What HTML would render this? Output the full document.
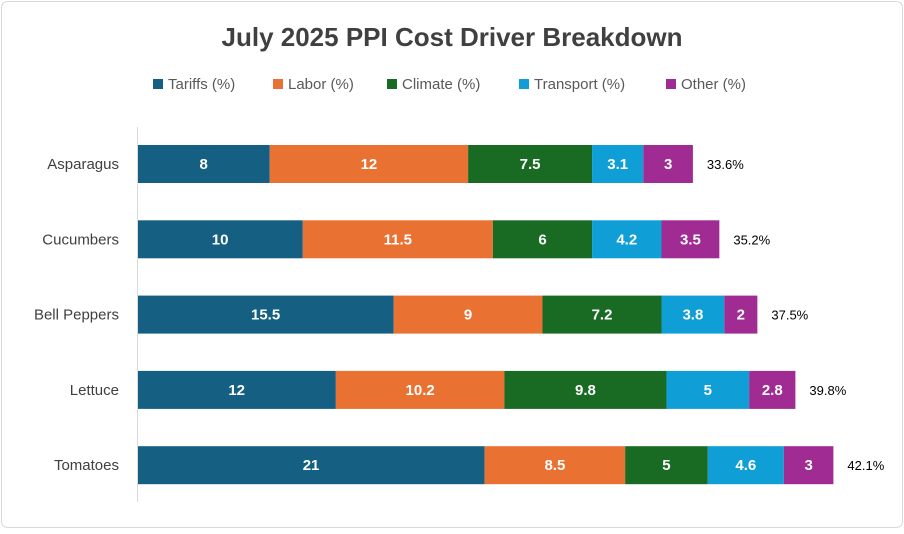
<!DOCTYPE html>
<html><head><meta charset="utf-8"><style>
body{margin:0;background:#fff;font-family:"Liberation Sans",Arial,sans-serif}
</style></head><body>
<svg width="904" height="529" xmlns="http://www.w3.org/2000/svg">
<rect x="1.5" y="1.5" width="901" height="526" rx="6" fill="#fff" stroke="#d9d9d9"/>
<text x="452" y="46" text-anchor="middle" font-size="26" font-weight="bold" fill="#404040">July 2025 PPI Cost Driver Breakdown</text>
<g id="legend"></g>
<g id="plot"></g>
<line x1="137.5" y1="127" x2="137.5" y2="502" stroke="#d9d9d9"/>
</svg>
<script>
const categories=["Asparagus","Cucumbers","Bell Peppers","Lettuce","Tomatoes"];
const seriesNames=["Tariffs (%)","Labor (%)","Climate (%)","Transport (%)","Other (%)"];
const tariffs=[8,10,15.5,12,21];
const labor=[12,11.5,9,10.2,8.5];
const climate=[7.5,6,7.2,9.8,5];
const transport=[3.1,4.2,3.8,5,4.6];
const other=[3,3.5,2,2.8,3];
const totals=["33.6%","35.2%","37.5%","39.8%","42.1%"];
const colors=["#156082","#e97132","#196b24","#0f9ed5","#a02b93"];
const series=[tariffs,labor,climate,transport,other];
const NS="http://www.w3.org/2000/svg";
const x0=137.5,scale=16.53;
const xs=v=>x0+v*scale;
const yc=i=>164+i*75.3;
const barH=38;
const plot=document.getElementById('plot');
function mk(t,a,p){const e=document.createElementNS(NS,t);for(const k in a)e.setAttribute(k,a[k]);p.appendChild(e);return e;}
categories.forEach((c,i)=>{
  const lab=mk('text',{x:119,y:yc(i)+5,'text-anchor':'end','font-size':15,fill:'#404040'},plot);
  lab.textContent=c;
  
  
  let cum=0;
  series.forEach((s,j)=>{
    const v=s[i];
    const r=mk('rect',{x:xs(cum),y:yc(i)-barH/2,width:v*scale,height:barH,fill:colors[j]},plot);
    
    
    const t=mk('text',{x:xs(cum+v/2),y:yc(i)+5,'text-anchor':'middle','font-size':15,'font-weight':'bold',fill:'#fff'},plot);
    t.textContent=v;
    
    
    cum+=v;
  });
  const tt=mk('text',{x:xs(cum)+14,y:yc(i)+5,'font-size':13,fill:'#000'},plot);
  tt.textContent=totals[i];
  
  
});
const lg=document.getElementById('legend');
const lx=[153,273,387,519,666];
seriesNames.forEach((n,j)=>{
  const r=mk('rect',{x:lx[j],y:79,width:10,height:10,fill:colors[j]},lg);
  
  
  const t=mk('text',{x:lx[j]+15,y:89,'font-size':15,fill:'#595959'},lg);
  t.textContent=n;
  
  
});
</script>
</body></html>
